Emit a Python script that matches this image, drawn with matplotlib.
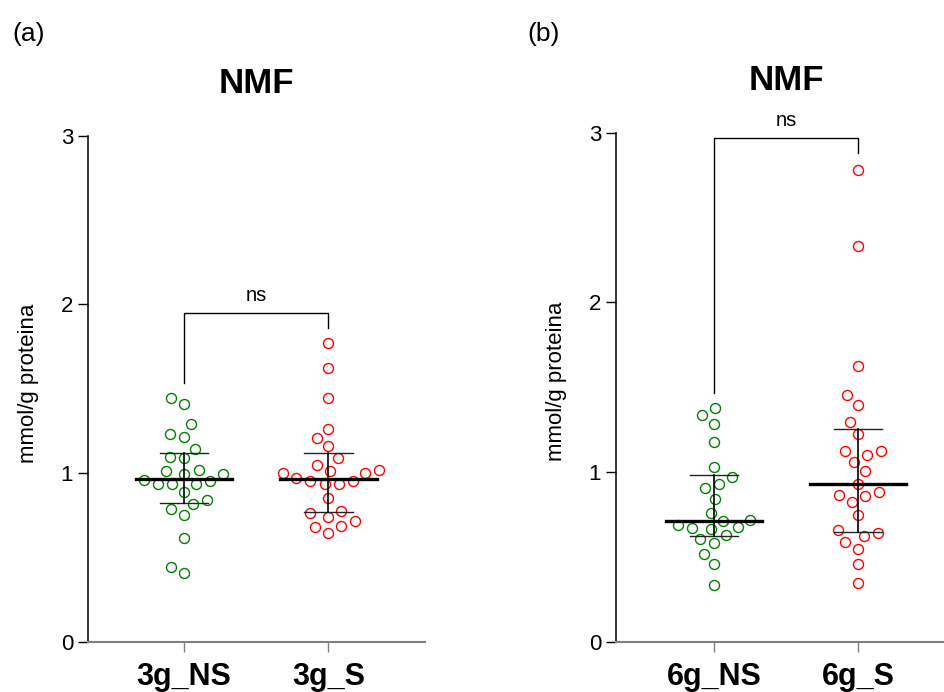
import numpy as np
import matplotlib.pyplot as plt

plt.rcParams['font.family'] = ['Liberation Sans', 'DejaVu Sans']

# values (mmol/g proteina)
a_ns = [1.410, 1.445, 1.290, 1.235, 1.217, 1.146, 1.098, 1.092, 1.020, 1.014,
        0.996, 0.996, 0.956, 0.937, 0.937, 0.937, 0.960, 0.889, 0.842, 0.818,
        0.787, 0.751, 0.618, 0.407, 0.446]
a_s = [1.771, 1.622, 1.445, 1.261, 1.209, 1.160, 1.089, 1.047, 1.020, 1.015,
       1.000, 1.004, 0.956, 0.937, 0.937, 0.956, 0.970, 0.855, 0.778, 0.763,
       0.739, 0.719, 0.684, 0.688, 0.648]
b_ns = [1.380, 1.337, 1.286, 1.175, 1.028, 0.969, 0.929, 0.906, 0.843, 0.761,
        0.688, 0.663, 0.718, 0.712, 0.673, 0.675, 0.629, 0.604, 0.580, 0.516,
        0.457, 0.335]
b_s = [2.782, 2.333, 1.625, 1.455, 1.398, 1.294, 1.222, 1.100, 1.125, 1.127,
       1.061, 1.006, 0.933, 0.859, 0.884, 0.822, 0.863, 0.745, 0.659, 0.624,
       0.639, 0.586, 0.547, 0.461, 0.349]

# median, q1, q3 as drawn
a_stats = [(0.964, 0.826, 1.120), (0.964, 0.769, 1.120)]
b_stats = [(0.714, 0.624, 0.984), (0.933, 0.649, 1.257)]

a_labels = ['3g_NS', '3g_S']
b_labels = ['6g_NS', '6g_S']

# significance brackets: left leg end, top, right leg end
a_bracket = (1.533, 1.948, 1.860)
b_bracket = (1.469, 2.966, 2.878)

colors = ['#008000', '#ff0000']
W, H = 945, 692

fig = plt.figure(figsize=(W / 100, H / 100), dpi=100)


def px_axes(left, top, right, bottom):
    return fig.add_axes([left / W, 1 - bottom / H, (right - left) / W, (bottom - top) / H])


def swarm(ax, xc, values, d=14.4):
    pts = ax.transData.transform(np.column_stack([np.full(len(values), xc), values]))
    ys = pts[:, 1]
    xs = np.zeros(len(values))
    placed = []
    for i in np.argsort(ys):
        cands = [0.0]
        for xj, yj in placed:
            dy = abs(ys[i] - yj)
            if dy < d:
                w = np.sqrt(d * d - dy * dy)
                cands += [xj - w, xj + w]
        cands.sort(key=abs)
        for c in cands:
            if all((c - xj) ** 2 + (ys[i] - yj) ** 2 >= d * d - 1e-6 for xj, yj in placed):
                xs[i] = c
                break
        placed.append((xs[i], ys[i]))
    back = ax.transData.inverted().transform(np.column_stack([pts[:, 0] + xs, ys]))
    return back[:, 0]


def panel(ax, groups, stats, labels, bracket, xlim):
    ax.set_xlim(*xlim)
    ax.set_ylim(0, 3)
    for k, (vals, st) in enumerate(zip(groups, stats)):
        xs = swarm(ax, k, vals)
        ax.plot(xs, vals, 'o', mfc='none', mec=colors[k], ms=7.2, mew=1.0,
                zorder=2, clip_on=False)
        med, q1, q3 = st
        ax.plot([k - 0.333, k + 0.333], [med, med], color='black', lw=2.4, zorder=4)
        ax.plot([k - 0.167, k + 0.167], [q1, q1], color='#222222', lw=1.0, zorder=4)
        ax.plot([k - 0.167, k + 0.167], [q3, q3], color='#222222', lw=1.0, zorder=4)
        ax.plot([k, k], [q1, q3], color='black', lw=1.2, zorder=4)
    l, top, r = bracket
    ax.plot([0, 0, 1, 1], [l, top, top, r], color='black', lw=1.0, clip_on=False)
    ax.annotate('ns', xy=(0.5, top), xytext=(0, 9), textcoords='offset points',
                ha='center', va='baseline', fontsize=14.5)

    ax.set_xticks([0, 1])
    ax.set_xticklabels(labels, fontsize=22, fontweight='bold')
    ax.set_yticks([0, 1, 2, 3])
    ax.tick_params(axis='y', length=7.5, width=1.0, labelsize=16, pad=3.5)
    ax.tick_params(axis='x', length=7.5, width=1.0, color='#808080', pad=7)
    for s in ['top', 'right']:
        ax.spines[s].set_visible(False)
    ax.spines['left'].set_linewidth(1.1)
    ax.spines['bottom'].set_linewidth(1.5)
    ax.spines['bottom'].set_color('#808080')


ax_a = px_axes(88.5, 135.7, 425, 642)
ax_b = px_axes(616.5, 132.5, 955, 642)

panel(ax_a, [a_ns, a_s], a_stats, a_labels, a_bracket, (-0.661, 1.668))
panel(ax_b, [b_ns, b_s], b_stats, b_labels, b_bracket, (-0.677, 1.674))

fig.text(256.5 / W, 1 - 93 / H, 'NMF', ha='center', va='baseline', fontsize=25, fontweight='bold')
fig.text(786 / W, 1 - 90 / H, 'NMF', ha='center', va='baseline', fontsize=25, fontweight='bold')
fig.text(12 / W, 1 - 34 / H, '(a)', ha='left', va='center', fontsize=19)
fig.text(527 / W, 1 - 34 / H, '(b)', ha='left', va='center', fontsize=19)
fig.text(29 / W, 1 - 383 / H, 'mmol/g proteina', rotation=90, ha='center', va='center', fontsize=16)
fig.text(557 / W, 1 - 381 / H, 'mmol/g proteina', rotation=90, ha='center', va='center', fontsize=16)

fig.savefig('out.png', dpi=100)
